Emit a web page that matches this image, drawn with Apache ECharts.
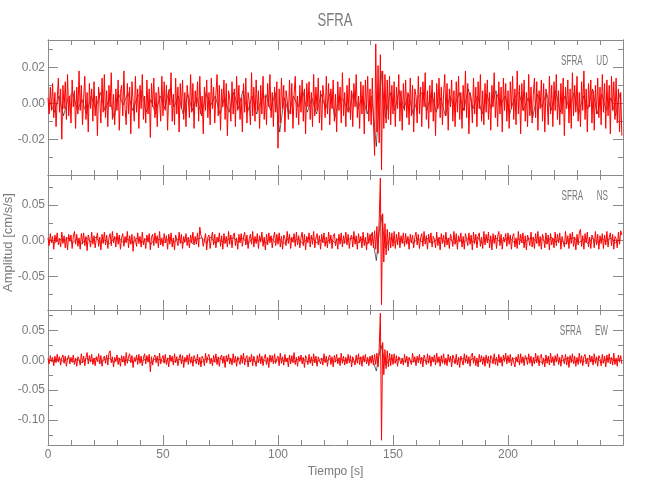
<!DOCTYPE html>
<html><head><meta charset="utf-8">
<script src="https://cdn.jsdelivr.net/npm/echarts@6/dist/echarts.min.js"></script>
<style>html,body{margin:0;padding:0;background:#fff}#c{width:650px;height:500px}</style>
</head><body><div id="c"></div>
<script>
const TITLE = 'SFRA';
const PANEL_LABELS = ['SFRA      UD', 'SFRA      NS', 'SFRA      EW'];
const X_NAME = 'Tiempo [s]';
const Y_NAME = 'Amplitud [cm/s/s]';
const X_MIN = 0, X_MAX = 250, X_MAJOR = 50, X_MINOR_SPLIT = 5;
const Y_MIN = [-0.0399, -0.0976, -0.142];
const Y_MAX = [0.0352, 0.0925, 0.0844];
const Y_MAJOR = [0.02, 0.05, 0.05];
const Y_MINOR = [0.01, 0.025, 0.025];
const DT_RED = 0.5;          // sample step of the red traces (s)
const DT_BLACK = 2, T0_BLACK = 0.75; // sample step / start of the black traces (s)

const redUD = [
.003,-.006,.009,-.004,.011,-.008,.006,-.013,.002,.014,-.005,.008,-.020,.010,-.003,.012,-.009,.016,-.007,.004,
-.011,.013,-.002,.007,-.014,.009,-.006,.018,-.004,.010,-.012,.003,.015,-.009,.006,-.016,.011,-.003,.008,-.010,
.012,-.007,.004,-.018,.009,.002,-.011,.014,-.005,.016,-.008,.007,-.013,.010,-.002,.017,-.009,.005,-.012,.008,
-.004,.013,-.015,.006,.010,-.007,.018,-.003,-.012,.011,-.006,.009,-.017,.012,.001,-.010,.015,-.005,.008,-.014,
.010,-.003,.016,-.009,.004,-.011,.013,-.006,.008,-.019,.011,-.002,.014,-.008,.006,-.013,.009,.002,-.010,.015,
-.007,.012,-.004,.010,-.015,.007,-.001,.017,-.010,.005,-.012,.014,-.006,.009,-.016,.011,-.003,.013,-.009,.006,
-.013,.010,.002,-.008,.016,-.005,.011,-.014,.007,-.002,.012,-.010,.015,-.006,.004,-.017,.009,-.004,.013,-.008,
.006,-.012,.014,-.003,.009,-.011,.005,.016,-.007,.010,-.015,.008,-.002,.013,-.009,.011,-.018,.007,.003,-.010,
.012,-.006,.008,-.013,.015,-.004,.010,-.009,.003,-.016,.011,-.005,.014,-.011,.006,.001,-.012,.017,-.007,.009,
-.010,.013,-.004,.007,-.014,.010,-.006,.015,-.009,.004,-.012,.011,-.002,.016,-.008,.006,-.013,.009,-.005,.012,
-.025,.008,-.011,.014,-.003,.010,-.016,.007,.002,-.009,.013,-.006,.011,-.014,.005,.015,-.008,.004,-.012,.010,
-.005,.013,-.010,.008,-.017,.011,-.002,.012,-.009,.006,-.013,.016,-.007,.009,-.004,.014,-.011,.007,-.015,.010,
.003,-.008,.015,-.006,.011,-.012,.008,-.003,.013,-.010,.005,-.016,.012,-.004,.009,-.011,.017,-.007,.006,-.013,
.010,-.005,.014,-.009,.007,-.013,.011,-.002,.016,-.008,.004,-.014,.012,-.006,.010,-.017,.013,-.004,.015,-.010,
.008,-.012,.014,-.010,-.029,.033,-.016,.021,-.022,.027,-.037,.018,-.014,.016,-.011,.013,-.009,.015,-.012,.010,
-.006,.012,-.013,.009,-.003,.016,-.010,.007,-.015,.011,-.004,.013,-.008,.006,-.012,.014,-.007,.010,-.016,.008,
.004,-.011,.015,-.006,.009,-.013,.012,-.002,.017,-.009,.007,-.014,.010,-.005,.013,-.010,.006,-.018,.011,-.003,
.014,-.008,.009,-.012,.005,.016,-.007,.011,-.015,.008,-.002,.013,-.010,.007,-.013,.012,-.005,.015,-.009,.006,
-.014,.010,-.004,.018,-.008,.011,-.017,.006,.003,-.011,.014,-.006,.009,-.013,.012,-.003,.016,-.010,.007,-.012,
.011,-.005,.013,-.009,.006,-.015,.010,-.002,.017,-.008,.005,-.013,.012,-.006,.009,-.016,.014,-.004,.011,-.010,
.007,-.014,.012,-.003,.015,-.009,.008,-.012,.018,-.006,.010,-.017,.011,-.004,.013,-.010,.006,-.013,.016,-.007,
.009,-.011,.005,.014,-.008,.012,-.015,.007,-.003,.013,-.010,.011,-.016,.008,.002,-.012,.015,-.006,.010,-.013,
.012,-.004,.016,-.009,.007,-.012,.011,-.006,.014,-.018,.009,-.003,.013,-.011,.008,-.014,.017,-.007,.010,-.005,
.015,-.010,.006,-.013,.012,-.004,.018,-.009,.008,-.016,.011,-.002,.013,-.011,.007,-.015,.010,-.006,.014,-.008,
.009,-.012,.016,-.005,.011,-.014,.013,-.007,.010,-.017,.015,-.004,.012,-.009,.014,-.011,.008,-.016,.006,-.018
];
const redNS = [
.004,-.007,.010,-.003,.006,-.012,.008,-.002,.011,-.006,.003,-.009,.012,-.004,.007,-.010,.005,-.013,.009,-.001,
.008,-.011,.006,.013,-.005,.009,-.008,.004,-.012,.010,-.003,.011,-.007,.006,-.014,.008,.002,-.009,.012,-.005,
.007,-.010,.003,.011,-.008,.005,-.013,.009,-.004,.012,-.006,.008,-.011,.004,.010,-.007,.013,-.003,.006,-.009,
.011,-.005,.008,-.012,.004,.010,-.008,.006,-.003,.013,-.010,.007,-.005,.009,-.015,.006,.002,-.008,.011,-.004,
.006,-.009,.012,-.006,.003,-.011,.008,-.002,.010,-.013,.005,.009,-.007,.011,-.004,.007,-.010,.013,-.006,.004,
-.008,.010,-.003,.007,-.012,.009,-.005,.011,-.009,.004,-.013,.008,.001,-.007,.012,-.004,.009,-.011,.006,-.002,
.010,-.007,.005,-.010,.008,-.003,.012,-.006,.006,-.005,.011,-.009,.019,.007,.004,-.008,-.006,.010,-.013,.005,
.008,-.011,.003,.012,-.006,.009,-.010,.005,-.002,.011,-.008,.007,-.012,.010,-.004,.006,-.009,.013,-.005,.008,
-.010,.006,.011,-.007,.004,-.012,.009,-.003,.010,-.008,.005,.012,-.006,.008,-.011,.003,.009,-.005,.013,-.009,
.006,-.004,.010,-.011,.007,-.002,.012,-.008,.005,-.013,.009,-.006,.011,-.003,.007,-.010,.004,.012,-.007,.009,
-.005,.011,-.009,.006,-.012,.008,.003,-.007,.013,-.004,.009,-.011,.005,-.002,.010,-.008,.012,-.006,.007,-.010,
.004,.012,-.007,.009,-.013,.006,-.003,.011,-.009,.008,-.005,.013,-.010,.004,.010,-.006,.007,-.012,.009,-.003,
.011,-.008,.005,-.010,.012,-.004,.008,-.011,.006,.010,-.007,.003,-.012,.009,-.005,.011,-.009,.007,-.003,.012,
-.006,.009,-.011,.004,.008,-.009,.013,-.005,.007,-.012,.010,-.003,.006,-.010,.012,-.007,.005,-.013,.011,-.004,
.009,-.007,.012,-.010,.014,-.012,.020,-.018,.030,.088,-.090,.038,-.030,.024,-.020,.016,-.014,.012,-.010,.011,
-.008,.013,-.011,.009,-.006,.012,-.010,.007,-.004,.011,-.008,.010,-.005,.006,-.012,.009,-.003,.008,-.010,.005,
.012,-.006,.009,-.011,.004,.010,-.008,.013,-.005,.007,-.012,.009,-.003,.011,-.009,.006,.002,-.010,.012,-.007,
.005,-.013,.010,-.004,.008,-.009,.012,-.006,.004,-.011,.009,.003,-.008,.013,-.005,.010,-.012,.007,-.002,.011,
-.009,.006,-.012,.010,.003,-.007,.011,-.005,.008,-.013,.012,-.004,.009,-.010,.006,.011,-.008,.005,-.011,.013,
-.006,.009,-.003,.012,-.010,.007,-.013,.010,-.004,.008,-.011,.006,.013,-.007,.009,-.012,.005,-.002,.010,-.008,
.011,-.005,.008,-.012,.006,.010,-.009,.004,-.011,.013,-.006,.009,-.003,.011,-.010,.007,-.013,.008,.002,-.007,
.012,-.009,.005,-.011,.010,-.004,.013,-.008,.006,-.012,.009,.003,-.010,.011,-.005,.008,-.013,.010,-.006,.004,
-.010,.012,-.007,.009,-.003,.011,-.012,.006,.008,-.009,.013,-.005,.007,-.011,.010,-.004,.012,-.008,.005,-.013,
.009,-.006,.011,.016,-.008,.007,-.012,.010,-.003,.012,-.009,.005,-.011,.008,.004,-.010,.013,-.006,.009,-.012,
.007,-.004,.010,-.011,.008,-.006,.013,-.009,.005,.011,-.007,.009,-.012,.006,.003,-.010,.012,-.005,.014,.008
];
const redEW = [
.003,-.006,.008,-.002,.005,-.009,.007,-.004,.010,-.003,.006,-.008,.004,.009,-.005,.007,-.010,.003,.008,-.006,
.005,-.003,.009,-.007,.004,-.010,.006,.002,-.008,.011,-.004,.007,-.009,.005,.013,-.006,.008,-.003,.010,-.007,
.004,-.009,.006,-.002,.011,-.006,.008,-.010,.003,.007,-.005,.009,-.008,.012,.016,-.004,.006,-.011,.005,-.002,
.009,-.007,.004,-.010,.008,-.003,.007,-.009,.013,-.005,.006,.011,-.004,.008,-.012,.005,-.002,.009,-.007,.010,
-.005,.007,-.009,.004,.011,-.006,.008,-.003,.010,-.019,.006,-.008,.005,.009,-.004,.007,-.010,.012,-.006,.003,
.008,-.005,.010,-.007,.004,-.011,.009,-.002,.007,-.008,.011,-.004,.006,-.009,.003,.010,-.006,.008,-.012,.005,
-.003,.009,-.007,.011,-.005,.006,-.010,.008,.002,-.006,.010,-.008,.005,-.011,.007,.003,-.009,.012,-.004,.006,
.010,-.006,.004,-.009,.008,-.003,.011,-.007,.006,-.010,.005,.009,-.005,.007,-.012,.008,-.002,.010,-.006,.004,
-.008,.011,-.004,.007,-.010,.006,.003,-.007,.009,-.005,.012,-.008,.004,.008,-.011,.006,-.003,.010,-.009,.007,
.005,-.010,.008,-.004,.011,-.006,.007,-.009,.004,.010,-.007,.005,-.012,.009,-.003,.008,-.006,.011,-.005,.003,
.007,-.009,.012,-.005,.006,-.008,.010,-.003,.004,-.011,.009,-.006,.008,-.004,.013,-.007,.005,-.010,.007,-.002,
.009,-.006,.005,-.012,.008,.003,-.007,.010,-.005,.006,-.009,.011,-.004,.007,-.010,.006,.009,-.006,.004,-.008,
.011,-.004,.007,-.010,.005,.009,-.007,.006,-.011,.008,-.003,.010,-.006,.004,-.009,.012,-.005,.007,-.008,.005,
-.006,.010,-.004,.008,-.011,.006,.003,-.008,.009,-.005,.011,-.007,.006,-.010,.008,-.003,.010,-.006,.005,-.009,
.007,-.005,.009,-.008,.010,-.007,.012,-.011,.020,.079,-.134,.030,-.024,.018,-.014,.016,-.011,.012,-.009,.010,
-.007,.011,-.005,.008,-.010,.006,.009,-.006,.004,-.008,.010,-.004,.007,-.011,.005,.008,-.007,.012,-.003,.006,
-.009,.007,-.004,.010,-.006,.005,-.011,.009,.002,-.007,.011,-.005,.008,-.010,.006,-.003,.009,-.008,.012,-.004,
.006,-.010,.008,-.005,.011,-.007,.004,-.009,.010,-.003,.007,-.011,.009,.003,-.006,.010,-.008,.005,-.012,.007,
.004,-.008,.011,-.004,.009,-.006,.006,-.010,.008,.012,-.005,.007,-.009,.004,-.011,.010,-.003,.008,-.007,.006,
-.010,.009,-.005,.007,-.012,.008,.004,-.006,.011,-.007,.005,-.009,.010,-.004,.006,-.010,.009,-.002,.012,-.006,
.008,-.004,.010,-.009,.005,.007,-.011,.006,-.003,.010,-.008,.011,-.005,.006,-.009,.008,.004,-.007,.011,-.005,
.007,-.010,.005,-.006,.012,-.004,.008,-.009,.006,.010,-.007,.004,-.011,.009,-.005,.007,-.008,.012,-.004,.006,
-.009,.008,-.003,.011,-.007,.005,-.010,.009,.003,-.006,.010,-.008,.006,-.012,.008,-.004,.011,-.006,.007,-.010,
.005,-.007,.012,-.005,.008,-.009,.006,.010,-.006,.004,-.011,.009,-.003,.007,-.008,.011,-.005,.006,-.010,.008,
.003,-.009,.010,-.005,.007,-.011,.009,-.004,.011,-.006,.005,-.008,.012,-.007,.004,-.010,.009,-.003,.008,-.006
];
const blackUD = [
.001,-.005,.004,-.007,.003,.006,-.004,.002,-.006,.004,
-.003,.006,-.004,.003,-.008,.005,-.001,.006,-.004,.003,
.007,-.005,.002,-.006,.004,-.003,.008,-.002,.004,-.006,
.005,-.004,.003,-.007,.006,-.001,.004,-.006,.003,-.005,
.006,-.003,.007,-.005,.004,-.006,.002,.005,-.004,.006,
-.016,.003,-.006,.004,-.002,.007,-.005,.003,-.006,.005,
-.003,.006,-.008,.004,.001,-.005,.006,-.003,.004,-.006,
.004,-.024,.018,-.008,.006,-.004,.007,-.003,.005,-.006,
.003,.006,-.004,.006,-.005,.003,-.007,.004,-.002,.006,
-.004,.008,-.003,.004,-.006,.005,-.003,.007,-.001,.004,
-.006,.003,.006,-.004,.003,-.008,.005,-.002,.006,-.004,
.007,-.005,.004,-.003,.006,-.006,.004,-.003,.008,-.006,
.005,-.004,.003,-.007,.006
];
const blackNS = [
.002,-.004,.003,-.001,.004,-.003,.003,-.005,.004,-.002,
.005,-.003,.001,-.004,.003,.004,-.003,.002,-.004,.004,
-.003,.003,-.005,.004,.001,-.003,.004,-.002,.003,-.004,
.003,-.004,.002,.004,-.003,.005,-.004,.001,-.003,.003,
.004,-.002,.004,-.005,.003,-.001,.003,-.004,.005,-.003,
.002,-.004,.004,-.002,.003,-.004,.003,.004,-.003,.001,
-.004,.003,-.003,.005,-.004,.002,.004,-.003,.003,-.005,
.010,-.028,.036,-.010,.004,-.003,.004,-.003,.002,-.004,
.003,-.002,.004,-.004,.001,.004,-.003,.003,-.004,.002,
-.003,.004,-.002,.005,-.004,.003,-.001,.004,-.003,.002,
.004,-.003,.003,-.004,.002,.004,-.003,.003,-.004,.005,
-.002,.003,-.005,.003,.004,-.003,.002,-.004,.004,-.003,
.003,-.001,.004,-.003,.002
];
const blackEW = [
.001,-.003,.003,-.002,.004,-.003,.002,-.004,.003,-.001,
.003,-.004,.002,.003,-.003,.004,-.002,.001,-.003,.003,
-.002,.003,-.004,.003,.001,-.003,.004,-.003,.002,-.001,
.003,-.003,.002,-.004,.003,.001,-.003,.004,-.002,.003,
-.003,.002,.004,-.003,.001,-.004,.003,-.002,.003,-.003,
.004,-.001,.003,-.003,.002,.003,-.003,.001,-.004,.003,
-.002,.003,-.003,.004,-.001,.002,-.003,.003,.004,-.002,
.006,-.018,.026,-.008,.003,-.003,.004,-.002,.003,-.003,
.002,.003,-.003,.004,-.002,.001,-.003,.003,-.004,.002,
.003,-.002,.003,-.004,.001,.003,-.003,.002,-.003,.004,
-.001,.003,-.003,.002,.004,-.003,.001,-.004,.003,-.002,
.003,-.003,.002,.004,-.003,.001,-.003,.003,-.002,.003,
-.004,.002,.003,-.001,.003
];

const REDS = [redUD, redNS, redEW];
const BLACKS = [blackUD, blackNS, blackEW];

const FONT = "'Liberation Sans', Arial, sans-serif";
const AX = '#8a8a8a', TXT = '#7a7a7a';
const PLOT_L = 48, PLOT_R = 27, PANEL_TOP = [40, 175, 310], PANEL_H = 135;

const grid = PANEL_TOP.map(t => ({left: PLOT_L, right: PLOT_R, top: t, height: PANEL_H,
  containLabel: false, outerBoundsMode: 'none'}));
const xAxis = [], yAxis = [], series = [];
const line = {show: true, onZero: false, lineStyle: {color: AX, width: 1}};

PANEL_TOP.forEach((t, g) => {
  const isBottom = g === 2;
  ['bottom', 'top'].forEach(pos => {
    xAxis.push({
      type: 'value', gridIndex: g, position: pos, min: X_MIN, max: X_MAX, interval: X_MAJOR,
      axisLine: line,
      axisTick: {show: true, inside: true, length: 10, lineStyle: {color: AX}},
      minorTick: {show: true, splitNumber: X_MINOR_SPLIT, length: 5, lineStyle: {color: AX}},
      splitLine: {show: false}, minorSplitLine: {show: false},
      axisLabel: {show: isBottom && pos === 'bottom', color: TXT, fontFamily: FONT, fontSize: 12, margin: 4,
        formatter: v => (v >= X_MAX ? '' : String(v))},
      name: (isBottom && pos === 'bottom') ? X_NAME : '',
      nameLocation: 'middle', nameGap: 21, nameMoveOverlap: false,
      nameTextStyle: {color: TXT, fontFamily: FONT, fontSize: 12}
    });
  });
  const major = Y_MAJOR[g];
  ['left', 'right'].forEach(pos => {
    [major, Y_MINOR[g]].forEach((iv, k) => {
      yAxis.push({
        type: 'value', gridIndex: g, position: pos, min: Y_MIN[g], max: Y_MAX[g],
        minInterval: iv, maxInterval: iv, splitNumber: 4,
        axisLine: line,
        axisTick: {show: true, inside: true, length: k === 0 ? 10 : 5, lineStyle: {color: AX}},
        splitLine: {show: false},
        axisLabel: {show: pos === 'left' && k === 0, color: TXT, fontFamily: FONT, fontSize: 12, margin: 3,
          formatter: v => {
            const r = v / major;
            if (Math.abs(r - Math.round(r)) > 1e-6) return '';
            const val = Math.round(r) * major;
            return (Math.abs(val) < 1e-12 ? 0 : val).toFixed(2);
          }},
        name: (g === 1 && pos === 'left' && k === 0) ? Y_NAME : '',
        nameLocation: 'middle', nameGap: 33, nameRotate: 90, nameMoveOverlap: false,
        nameTextStyle: {color: TXT, fontFamily: FONT, fontSize: 13}
      });
    });
  });
  const xi = g * 2, yi = g * 4;
  series.push({
    type: 'line', xAxisIndex: xi, yAxisIndex: yi, showSymbol: false, symbol: 'none', animation: false,
    lineStyle: {color: '#000000', width: 0.6},
    data: BLACKS[g].map((v, i) => [T0_BLACK + i * DT_BLACK, v])
  });
  series.push({
    type: 'line', xAxisIndex: xi, yAxisIndex: yi, showSymbol: false, symbol: 'none', animation: false,
    lineStyle: {color: '#ff0000', width: 1},
    data: REDS[g].map((v, i) => [i * DT_RED, v])
  });
});

const graphic = [
  {type: 'text', x: 335, y: 21, scaleX: 0.69, style: {text: TITLE, fill: TXT, font: '19px ' + FONT,
    align: 'center', verticalAlign: 'middle', textAlign: 'center', textVerticalAlign: 'middle'}}
].concat(PANEL_LABELS.map((s, g) => ({
  type: 'text', x: 608, y: PANEL_TOP[g] + 21, scaleX: 0.58,
  style: {text: s, fill: TXT, font: '14px ' + FONT, align: 'right', verticalAlign: 'middle',
    textAlign: 'right', textVerticalAlign: 'middle'}
})));

const chart = echarts.init(document.getElementById('c'), null, {renderer: 'canvas'});
chart.setOption({animation: false, backgroundColor: '#ffffff', grid, xAxis, yAxis, series, graphic});
</script></body></html>
